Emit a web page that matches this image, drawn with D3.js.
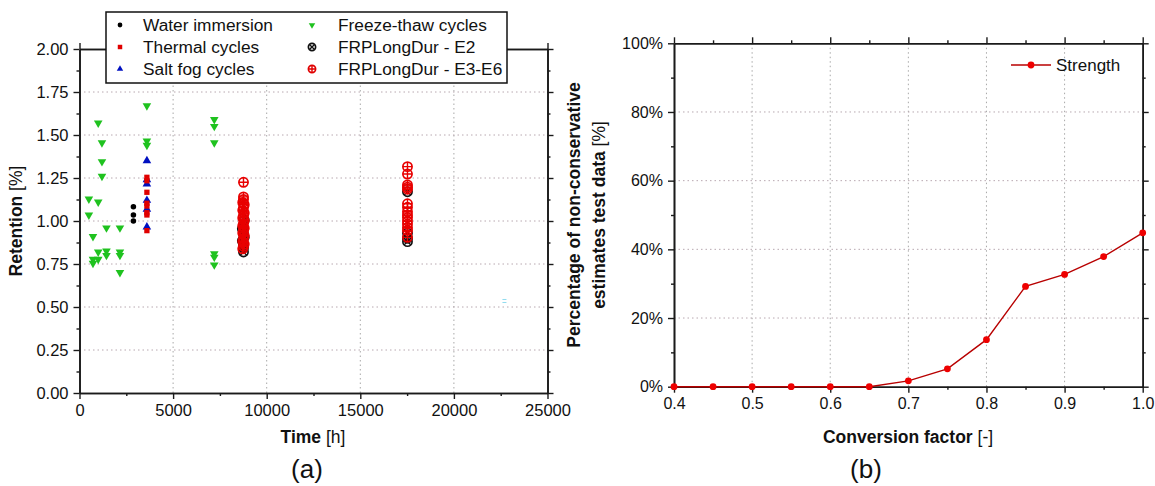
<!DOCTYPE html>
<html><head><meta charset="utf-8">
<script src="https://cdn.jsdelivr.net/npm/d3@7"></script>
<style>body{margin:0;background:#fff} svg{display:block} text{font-family:"Liberation Sans",Arial,sans-serif;fill:#111}</style>
</head><body><svg id="c" width="1155" height="486"></svg>
<script>
// ---------- data: panel (a) ----------
const waterImmersion = [[2880,1.083],[2880,1.035],[2880,1.00]];
const thermalCycles = [[3600,1.254],[3600,1.234],[3600,1.167],[3600,1.103],[3600,1.087],[3600,1.048],[3600,1.035],[3600,0.944]];
const saltFogCycles = [[3600,1.35],[3600,1.24],[3600,1.215],[3600,1.12],[3600,1.068],[3600,0.965]];
const freezeThaw = [[500,1.128],[500,1.035],[720,0.91],[720,0.777],[720,0.754],[1000,1.57],[1000,1.11],[1000,0.82],[1000,0.777],
  [1200,1.455],[1200,1.345],[1200,1.26],[1440,0.96],[1440,0.825],[1440,0.80],[2160,0.96],[2160,0.82],[2160,0.80],[2160,0.70],
  [3600,1.67],[3600,1.465],[3600,1.44],[7200,1.59],[7200,1.55],[7200,1.455],[7200,0.81],[7200,0.79],[7200,0.745]];
const frpE2 = [[8760,0.82],[8760,0.845],[8760,0.865],[8700,0.885],[8800,0.905],[8760,0.925],[8700,0.955],[8800,1.005],
  [17520,1.17],[17520,0.93],[17520,0.90],[17520,0.88]];
const frpE3E6 = [[8760,1.225],[8760,1.14],[8760,1.125],[8720,1.108],[8800,1.095],[8760,1.078],[8720,1.062],[8800,1.047],[8760,1.03],
  [8720,1.018],[8800,1.002],[8760,0.985],[8720,0.972],[8800,0.958],[8760,0.944],[8720,0.93],[8800,0.915],[8760,0.897],[8720,0.882],
  [8800,0.866],[8760,0.852],[8720,0.838],
  [17520,1.316],[17520,1.273],[17520,1.21],[17520,1.196],[17520,1.185],[17520,1.10],[17520,1.08],[17520,1.054],[17520,1.035],
  [17520,1.02],[17520,1.0],[17520,0.982],[17520,0.962],[17520,0.945],[17520,0.905]];
const strayMark = [[22700,0.535]];
const timeTicks = [0,5000,10000,15000,20000,25000];
const retentionTicks = [0,0.25,0.5,0.75,1.0,1.25,1.5,1.75,2.0];
const legendA = ["Water immersion","Thermal cycles","Salt fog cycles","Freeze-thaw cycles","FRPLongDur - E2","FRPLongDur - E3-E6"];

// ---------- data: panel (b) ----------
const conversionFactor = [0.4,0.45,0.5,0.55,0.6,0.65,0.7,0.75,0.8,0.85,0.9,0.95,1.0];
const strengthPct = [0,0,0,0,0,0,1.7,5.2,13.7,29.2,32.7,37.9,44.8];
const factorTicks = [0.4,0.5,0.6,0.7,0.8,0.9,1.0];
const pctTicks = [0,20,40,60,80,100];

const svg = d3.select("#c");
const AX = "#1a1a1a";

function frame(g, x, y, xMaj, xMin, yMaj, yMin, xFmt, yFmt, fs) {
  const [x0,x1] = x.range(), [y0,y1] = y.range();
  const grid = g.append("g").attr("stroke","#a8a8a8").attr("stroke-width",1).attr("stroke-dasharray","1.5,3");
  xMaj.filter(v=>x(v)>x0+1 && x(v)<x1-1).forEach(v=>grid.append("line").attr("x1",x(v)).attr("x2",x(v)).attr("y1",y0).attr("y2",y1));
  yMaj.filter(v=>y(v)<y0-1 && y(v)>y1+1).forEach(v=>grid.append("line").attr("y1",y(v)).attr("y2",y(v)).attr("x1",x0).attr("x2",x1).attr("stroke","#b8a8b0"));
  const mk = (axisFn, scale, vals, size, fmt, tr) => {
    const a = axisFn(scale).tickValues(vals).tickSize(size).tickSizeOuter(0).tickPadding(5).tickFormat(fmt);
    const gg = g.append("g").attr("transform",tr).call(a);
    gg.select(".domain").attr("stroke",AX).attr("stroke-width",1.6);
    gg.selectAll(".tick line").attr("stroke",AX).attr("stroke-width",1.4);
    gg.selectAll("text").attr("font-size",fs).attr("fill","#111").attr("font-family","'Liberation Sans',Arial,sans-serif");
    return gg;
  };
  const nf = () => "";
  mk(d3.axisBottom, x, xMaj, 6, xFmt, `translate(0,${y0})`);
  mk(d3.axisBottom, x, xMin, 3, nf, `translate(0,${y0})`);
  mk(d3.axisTop, x, xMaj, 6, nf, `translate(0,${y1})`);
  mk(d3.axisTop, x, xMin, 3, nf, `translate(0,${y1})`);
  mk(d3.axisLeft, y, yMaj, 6, yFmt, `translate(${x0},0)`);
  mk(d3.axisLeft, y, yMin, 3, nf, `translate(${x0},0)`);
  mk(d3.axisRight, y, yMaj, 6, nf, `translate(${x1},0)`);
  mk(d3.axisRight, y, yMin, 3, nf, `translate(${x1},0)`);
}

// ================= panel (a) =================
const xa = d3.scaleLinear().domain([0,25000]).range([79.5,547.5]);
const ya = d3.scaleLinear().domain([0,2]).range([393,49]);
const ga = svg.append("g");
const minorTime = d3.range(0,25001,2500).filter(v=>v%5000!==0);
const minorRet = d3.range(0,2.0001,0.125).filter(v=>Math.abs(v*4-Math.round(v*4))>1e-6);
frame(ga, xa, ya, timeTicks, minorTime, retentionTicks, minorRet, d3.format("d"), d3.format(".2f"), "16.5px");

const shapes = {
  water: {path:d3.symbol().type(d3.symbolCircle).size(24)(), rot:0, fill:"#000"},
  thermal: {path:d3.symbol().type(d3.symbolSquare).size(28)(), rot:0, fill:"#e00000"},
  salt: {path:d3.symbol().type(d3.symbolTriangle).size(32)(), rot:0, fill:"#0010c0"},
  freeze: {path:d3.symbol().type(d3.symbolTriangle).size(32)(), rot:180, fill:"#1fc21f"}
};
function drawSym(g, data, s) {
  g.selectAll(null).data(data).join("path").attr("d",s.path).attr("fill",s.fill)
    .attr("transform",d=>`translate(${xa(d[0])},${ya(d[1])}) rotate(${s.rot})`);
}
function drawCross(g, data, color, kind, fixed, r) {
  r = r || 4.6;
  const gg = g.selectAll(null).data(data).join("g")
    .attr("transform",d=>`translate(${fixed?fixed[0]:xa(d[0])},${fixed?fixed[1]:ya(d[1])})`);
  gg.append("circle").attr("r",r).attr("fill","none").attr("stroke",color).attr("stroke-width",1.7);
  if (kind==="x") {
    const k = r*0.7;
    gg.append("path").attr("d",`M${-k},${-k}L${k},${k}M${-k},${k}L${k},${-k}`).attr("stroke",color).attr("stroke-width",1.4);
  } else {
    gg.append("path").attr("d",`M${-r},0L${r},0M0,${-r}L0,${r}`).attr("stroke",color).attr("stroke-width",1.4);
  }
}
const pa = ga.append("g");
drawCross(pa, frpE2, "#111", "x");
drawCross(pa, frpE3E6, "#e80000", "+");
drawSym(pa, freezeThaw, shapes.freeze);
drawSym(pa, saltFogCycles, shapes.salt);
drawSym(pa, thermalCycles, shapes.thermal);
drawSym(pa, waterImmersion, shapes.water);
pa.selectAll(null).data(strayMark).join("path")
  .attr("d",d=>`M${xa(d[0])-2},${ya(d[1])-1.5}h4M${xa(d[0])-2},${ya(d[1])+1.5}h4`)
  .attr("stroke","#8fdcef").attr("stroke-width",1);

// legend (a)
const lg = ga.append("g");
lg.append("rect").attr("x",106).attr("y",12).attr("width",401).attr("height",71).attr("fill","#fff").attr("stroke","#111").attr("stroke-width",1.5);
const legPos = [[120,25],[120,47],[120,69],[312,25],[312,47],[312,69]];
const textX = [143,143,143,338,338,338];
const legKeys = ["water","thermal","salt","freeze"];
legendA.forEach((name,i)=>{
  const [mx,my] = legPos[i];
  if (i<4) {
    const s = shapes[legKeys[i]];
    lg.append("path").attr("d",d3.symbol().type(i===1?d3.symbolSquare:(i===0?d3.symbolCircle:d3.symbolTriangle)).size(i===1?20:18)())
      .attr("fill",s.fill).attr("transform",`translate(${mx},${my}) rotate(${s.rot})`);
  } else {
    drawCross(lg, [0], i===4?"#111":"#e00000", i===4?"x":"+", [mx,my], 3.6);
  }
  lg.append("text").attr("x",textX[i]).attr("y",my).attr("dy","0.35em").attr("font-size","17.3px").text(name);
});

// axis titles (a)
const ta = ga.append("text").attr("transform","translate(22,221) rotate(-90)").attr("text-anchor","middle").attr("font-size","17.5px");
ta.append("tspan").attr("font-weight","bold").text("Retention ");
ta.append("tspan").text("[%]");
const tx = ga.append("text").attr("x",313).attr("y",443).attr("text-anchor","middle").attr("font-size","17.5px");
tx.append("tspan").attr("font-weight","bold").text("Time ");
tx.append("tspan").text("[h]");
ga.append("text").attr("x",307).attr("y",478).attr("text-anchor","middle").attr("font-size","26px").attr("font-family","Lato, 'Open Sans', sans-serif").text("(a)");

// ================= panel (b) =================
const xb = d3.scaleLinear().domain([0.4,1.0]).range([674,1142.7]);
const yb = d3.scaleLinear().domain([0,100]).range([386.7,43.3]);
const gb = svg.append("g");
const minorF = [0.45,0.55,0.65,0.75,0.85,0.95];
const minorP = [10,30,50,70,90];
frame(gb, xb, yb, factorTicks, minorF, pctTicks, minorP, d3.format(".1f"), d=>d+"%", "16px");

const pts = conversionFactor.map((f,i)=>[f,strengthPct[i]]);
gb.append("path").datum(pts).attr("fill","none").attr("stroke","#b80000").attr("stroke-width",1.4)
  .attr("d",d3.line().x(d=>xb(d[0])).y(d=>yb(d[1])));
gb.selectAll(null).data(pts).join("circle").attr("cx",d=>xb(d[0])).attr("cy",d=>yb(d[1])).attr("r",3.4).attr("fill","#ee0000");

// legend (b)
gb.append("line").attr("x1",1011).attr("x2",1051).attr("y1",65).attr("y2",65).attr("stroke","#b80000").attr("stroke-width",1.4);
gb.append("circle").attr("cx",1031).attr("cy",65).attr("r",3.4).attr("fill","#ee0000");
gb.append("text").attr("x",1056).attr("y",65).attr("dy","0.35em").attr("font-size","17px").text("Strength");

// axis titles (b)
const tb = gb.append("text").attr("transform","translate(582,215) rotate(-90)").attr("text-anchor","middle").attr("font-size","17.5px").attr("font-weight","bold");
tb.append("tspan").attr("x",0).attr("dy","-0.1em").text("Percentage of non-conservative");
const tb2 = tb.append("tspan").attr("x",0).attr("dy","1.4em");
tb2.append("tspan").text("estimates test data ");
tb2.append("tspan").attr("font-weight","normal").text("[%]");
const txb = gb.append("text").attr("x",908).attr("y",443).attr("text-anchor","middle").attr("font-size","17.5px");
txb.append("tspan").attr("font-weight","bold").text("Conversion factor ");
txb.append("tspan").text("[-]");
gb.append("text").attr("x",866).attr("y",478).attr("text-anchor","middle").attr("font-size","26px").attr("font-family","Lato, 'Open Sans', sans-serif").text("(b)");
</script></body></html>
